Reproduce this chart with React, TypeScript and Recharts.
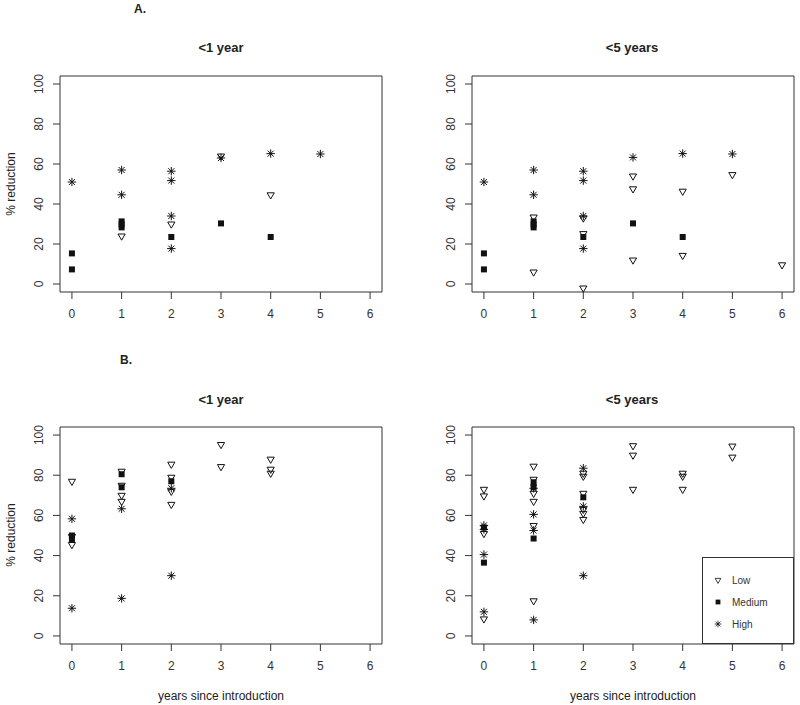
import React from 'react';
import { ScatterChart, Scatter, XAxis, YAxis, ReferenceArea } from 'recharts';

type Pt = { x: number; y: number };

// axis ticks
const yearTicks = [0, 1, 2, 3, 4, 5, 6];
const pctTicks = [0, 20, 40, 60, 80, 100];
const levelNames = ['Low', 'Medium', 'High'];

// A. <1 year
const aOneLow: Pt[] = [
  { x: 1, y: 24 }, { x: 2, y: 30 }, { x: 3, y: 64 }, { x: 4, y: 44.6 },
];
const aOneMedium: Pt[] = [
  { x: 0, y: 15.3 }, { x: 0, y: 7.3 }, { x: 1, y: 31.3 }, { x: 1, y: 29.8 },
  { x: 1, y: 28.3 }, { x: 2, y: 23.5 }, { x: 3, y: 30.3 }, { x: 4, y: 23.5 },
];
const aOneHigh: Pt[] = [
  { x: 0, y: 51 }, { x: 1, y: 57 }, { x: 1, y: 44.6 }, { x: 2, y: 56.4 },
  { x: 2, y: 51.7 }, { x: 2, y: 34 }, { x: 2, y: 17.7 }, { x: 3, y: 63 },
  { x: 4, y: 65.2 }, { x: 5, y: 65 },
];

// A. <5 years
const aFiveLow: Pt[] = [
  { x: 1, y: 33.5 }, { x: 1, y: 6 }, { x: 2, y: 33 }, { x: 2, y: 25.2 },
  { x: 2, y: -2 }, { x: 3, y: 54 }, { x: 3, y: 47.6 }, { x: 3, y: 12 },
  { x: 4, y: 46.4 }, { x: 4, y: 14.3 }, { x: 5, y: 54.7 }, { x: 6, y: 9.6 },
];
const aFiveMedium: Pt[] = [
  { x: 0, y: 15.3 }, { x: 0, y: 7.3 }, { x: 1, y: 31.3 }, { x: 1, y: 29.8 },
  { x: 1, y: 28.3 }, { x: 2, y: 23.5 }, { x: 3, y: 30.3 }, { x: 4, y: 23.5 },
];
const aFiveHigh: Pt[] = [
  { x: 0, y: 51 }, { x: 1, y: 57 }, { x: 1, y: 44.6 }, { x: 2, y: 56.4 },
  { x: 2, y: 51.7 }, { x: 2, y: 34 }, { x: 2, y: 17.7 }, { x: 3, y: 63.3 },
  { x: 4, y: 65.2 }, { x: 5, y: 65 },
];

// B. <1 year
const bOneLow: Pt[] = [
  { x: 0, y: 77 }, { x: 0, y: 49.5 }, { x: 0, y: 45.5 }, { x: 1, y: 82 },
  { x: 1, y: 75 }, { x: 1, y: 70 }, { x: 1, y: 67 }, { x: 2, y: 85.5 },
  { x: 2, y: 79 }, { x: 2, y: 72 }, { x: 2, y: 65.5 }, { x: 3, y: 95.3 },
  { x: 3, y: 84.3 }, { x: 4, y: 88 }, { x: 4, y: 83 }, { x: 4, y: 81 },
];
const bOneMedium: Pt[] = [
  { x: 0, y: 50 }, { x: 0, y: 48 }, { x: 1, y: 80.5 }, { x: 1, y: 74 }, { x: 2, y: 77 },
];
const bOneHigh: Pt[] = [
  { x: 0, y: 58.3 }, { x: 0, y: 13.8 }, { x: 1, y: 63.3 }, { x: 1, y: 18.7 },
  { x: 2, y: 73.5 }, { x: 2, y: 30 },
];

// B. <5 years
const bFiveLow: Pt[] = [
  { x: 0, y: 73 }, { x: 0, y: 69.7 }, { x: 0, y: 51 }, { x: 0, y: 8.5 },
  { x: 1, y: 84.5 }, { x: 1, y: 78 }, { x: 1, y: 71 }, { x: 1, y: 67 },
  { x: 1, y: 55 }, { x: 1, y: 17.5 }, { x: 2, y: 81 }, { x: 2, y: 79.5 },
  { x: 2, y: 71 }, { x: 2, y: 63 }, { x: 2, y: 61 }, { x: 2, y: 58 },
  { x: 3, y: 94.7 }, { x: 3, y: 90 }, { x: 3, y: 73 }, { x: 4, y: 81 },
  { x: 4, y: 79.5 }, { x: 4, y: 73 }, { x: 5, y: 94.5 }, { x: 5, y: 89 },
];
const bFiveMedium: Pt[] = [
  { x: 0, y: 54 }, { x: 0, y: 36.5 }, { x: 1, y: 76.5 }, { x: 1, y: 74 },
  { x: 1, y: 48.5 }, { x: 2, y: 69 },
];
const bFiveHigh: Pt[] = [
  { x: 0, y: 55 }, { x: 0, y: 53 }, { x: 0, y: 40.5 }, { x: 0, y: 12 },
  { x: 1, y: 73.5 }, { x: 1, y: 60.5 }, { x: 1, y: 52.5 }, { x: 1, y: 8 },
  { x: 2, y: 83.5 }, { x: 2, y: 64.5 }, { x: 2, y: 30 },
];

const INK = '#111';
const AXIS = '#333';
const FONT = '"Liberation Sans", Arial, sans-serif';

// R-like plotting symbols: pch 6, 15, 8
const Tri = (p: any) => {
  const { cx, cy } = p;
  if (cx == null || cy == null) return <g />;
  return (
    <polygon
      points={`${cx - 3.6},${cy - 2} ${cx + 3.6},${cy - 2} ${cx},${cy + 4.2}`}
      fill="none" stroke={INK} strokeWidth={1}
    />
  );
};
const Sq = (p: any) => {
  const { cx, cy } = p;
  if (cx == null || cy == null) return <g />;
  return <rect x={cx - 3} y={cy - 3} width={6} height={6} fill={INK} />;
};
const Star = (p: any) => {
  const { cx, cy } = p;
  if (cx == null || cy == null) return <g />;
  const a = 4.2;
  const d = 3;
  return (
    <g stroke={INK} strokeWidth={1}>
      <line x1={cx - a} y1={cy} x2={cx + a} y2={cy} />
      <line x1={cx} y1={cy - a} x2={cx} y2={cy + a} />
      <line x1={cx - d} y1={cy - d} x2={cx + d} y2={cy + d} />
      <line x1={cx - d} y1={cy + d} x2={cx + d} y2={cy - d} />
    </g>
  );
};

const YTick = (p: any) => {
  const { x, y, payload } = p;
  return (
    <text x={x} y={y} transform={`rotate(-90 ${x} ${y})`} textAnchor="middle"
      fontSize={12} fill="#333" fontFamily={FONT}>
      {payload.value}
    </text>
  );
};
const XTick = (p: any) => {
  const { x, y, payload } = p;
  return (
    <text x={x} y={y + 17} textAnchor="middle" fontSize={12} fill="#333" fontFamily={FONT}>
      {payload.value}
    </text>
  );
};

interface PanelProps {
  low: Pt[];
  medium: Pt[];
  high: Pt[];
  width: number;
  height: number;
  margin: { top: number; right: number; bottom: number; left: number };
}

const Panel: React.FC<PanelProps> = ({ low, medium, high, width, height, margin }) => (
  <ScatterChart width={width} height={height} margin={margin}>
    <XAxis type="number" dataKey="x" domain={[-0.24, 6.24]} ticks={yearTicks}
      allowDataOverflow axisLine={false} tickSize={7} tickLine={{ stroke: AXIS }}
      tick={<XTick />} height={30} interval={0} />
    <YAxis type="number" dataKey="y" domain={[-4, 104]} ticks={pctTicks}
      allowDataOverflow axisLine={false} tickSize={7} tickMargin={10}
      tickLine={{ stroke: AXIS }} tick={<YTick />} width={40} interval={0} />
    <ReferenceArea x1={-0.24} x2={6.24} y1={-4} y2={104} fill="none"
      stroke={AXIS} strokeWidth={1} ifOverflow="visible" />
    <Scatter name={levelNames[0]} data={low} shape={<Tri />} isAnimationActive={false} />
    <Scatter name={levelNames[1]} data={medium} shape={<Sq />} isAnimationActive={false} />
    <Scatter name={levelNames[2]} data={high} shape={<Star />} isAnimationActive={false} />
  </ScatterChart>
);

const Txt: React.FC<{ x: number; y: number; size?: number; bold?: boolean; rotate?: boolean; children: React.ReactNode }> =
  ({ x, y, size = 12, bold, rotate, children }) => (
    <div style={{
      position: 'absolute', left: x, top: y, whiteSpace: 'nowrap',
      transform: `translate(-50%, -50%)${rotate ? ' rotate(-90deg)' : ''}`,
      fontSize: size, fontWeight: bold ? 'bold' : 'normal', color: '#222',
      fontFamily: FONT, lineHeight: 1,
    }}>{children}</div>
  );

const topMargin = { top: 76, right: 18, bottom: 8, left: 20 };
const topMarginR = { top: 76, right: 6, bottom: 8, left: 20 };
const botMargin = { top: 77, right: 18, bottom: 31, left: 20 };
const botMarginR = { top: 77, right: 6, bottom: 31, left: 20 };

const App: React.FC = () => {
  return (
    <div style={{ position: 'absolute', left: 0, top: 0, width: 800, height: 705, overflow: 'hidden', background: '#fff' }}>
      <div style={{ position: 'absolute', left: 0, top: 0 }}>
        <Panel low={aOneLow} medium={aOneMedium} high={aOneHigh} width={400} height={330} margin={topMargin} />
      </div>
      <div style={{ position: 'absolute', left: 412, top: 0 }}>
        <Panel low={aFiveLow} medium={aFiveMedium} high={aFiveHigh} width={388} height={330} margin={topMarginR} />
      </div>
      <div style={{ position: 'absolute', left: 0, top: 350 }}>
        <Panel low={bOneLow} medium={bOneMedium} high={bOneHigh} width={400} height={355} margin={botMargin} />
      </div>
      <div style={{ position: 'absolute', left: 412, top: 350 }}>
        <Panel low={bFiveLow} medium={bFiveMedium} high={bFiveHigh} width={388} height={355} margin={botMarginR} />
      </div>

      <Txt x={140} y={9} bold>A.</Txt>
      <Txt x={126} y={360} bold>B.</Txt>
      <Txt x={221} y={47} size={13} bold>{'<1 year'}</Txt>
      <Txt x={632} y={47} size={13} bold>{'<5 years'}</Txt>
      <Txt x={221} y={399} size={13} bold>{'<1 year'}</Txt>
      <Txt x={632} y={399} size={13} bold>{'<5 years'}</Txt>
      <Txt x={11} y={184} rotate>% reduction</Txt>
      <Txt x={11} y={535} rotate>% reduction</Txt>
      <Txt x={221} y={696}>years since introduction</Txt>
      <Txt x={633} y={696}>years since introduction</Txt>

      {/* legend, bottom right */}
      <div style={{ position: 'absolute', left: 702, top: 557, width: 92, height: 87, border: `1px solid ${AXIS}`, boxSizing: 'border-box', background: '#fff' }}>
        <svg width={90} height={85} style={{ position: 'absolute', left: 0, top: 0 }}>
          <g transform="translate(15,22) scale(0.8) translate(-15,-22)"><Tri cx={15} cy={22} /></g>
          <g transform="translate(15,44) scale(0.8) translate(-15,-44)"><Sq cx={15} cy={44} /></g>
          <g transform="translate(15,66) scale(0.8) translate(-15,-66)"><Star cx={15} cy={66} /></g>
          {levelNames.map((n, i) => (
            <text key={n} x={29} y={22 + i * 22 + 3.5} fontSize={10} fill="#333" fontFamily={FONT}>{n}</text>
          ))}
        </svg>
      </div>
    </div>
  );
};

export default App;
